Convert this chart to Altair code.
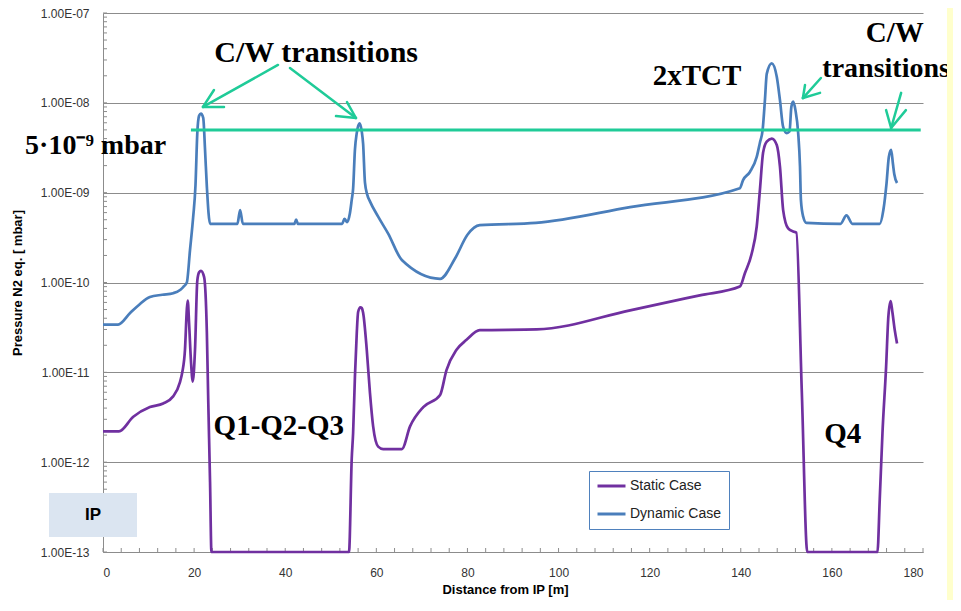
import altair as alt
import pandas as pd

# ---------------- data ----------------
series_names = ["Static Case", "Dynamic Case"]
series_colors = ["#7030A0", "#4A7EBB"]

dyn_x = [0, 3.3, 6, 8, 10.3, 13, 15.4, 17.0, 17.6, 18.4, 19.1, 19.8, 20.3, 20.7, 21.1, 21.5, 22.0, 22.4,
         22.8, 23.5, 24.5, 29.5, 30.1, 30.7, 42.0, 42.4, 42.8, 52.5, 53.0, 53.6, 54.2, 54.6, 54.9, 55.3,
         55.7, 56.3, 56.8, 57.1, 57.5, 58.0, 58.6, 60.4, 62.6, 65.6, 74.0, 77.3, 80.0, 82.7, 95.0, 115.7,
         139.8, 140.5, 142.0, 143.5, 144.2, 144.8, 145.3, 145.7, 146.8, 147.9, 148.6, 149.3, 150.1, 150.7,
         151.1, 151.5, 152.0, 152.6, 153.0, 153.2, 153.7, 154.4, 161.9, 163.2, 164.5, 170.5, 171.3, 172.0,
         172.5, 173.0, 173.4, 173.7, 174.3]
dyn_y = [3.4e-11, 3.4e-11, 4.6e-11, 5.7e-11, 6.9e-11, 7.3e-11, 7.6e-11, 8.3e-11, 8.9e-11, 1.0e-10, 2.3e-10,
         5.4e-10, 1.2e-9, 4.6e-9, 7.2e-9, 7.6e-9, 6.8e-9, 3.0e-9, 1.16e-9, 4.5e-10, 4.5e-10, 4.5e-10, 6.4e-10,
         4.5e-10, 4.5e-10, 5.0e-10, 4.5e-10, 4.5e-10, 5.1e-10, 4.7e-10, 5.9e-10, 8.3e-10, 1.1e-9, 3.0e-9,
         4.6e-9, 5.9e-9, 4.8e-9, 3.5e-9, 1.3e-9, 9.5e-10, 8.0e-10, 5.4e-10, 3.5e-10, 1.78e-10, 1.1e-10,
         1.86e-10, 3.4e-10, 4.35e-10, 4.6e-10, 6.9e-10, 1.12e-9, 1.38e-9, 1.7e-9, 2.5e-9, 3.6e-9, 5.0e-9,
         1.07e-8, 2.1e-8, 2.75e-8, 1.95e-8, 1.07e-8, 5.4e-9, 4.6e-9, 4.8e-9, 9.0e-9, 1.03e-8, 8.3e-9, 4.6e-9,
         1.95e-9, 8.3e-10, 5.4e-10, 4.6e-10, 4.5e-10, 5.6e-10, 4.5e-10, 4.5e-10, 6.4e-10, 1.28e-9, 2.5e-9,
         3.0e-9, 2.1e-9, 1.6e-9, 1.28e-9]

sta_x = [0, 3.5, 6.65, 10.3, 13.2, 15.4, 16.9, 17.4, 18.0, 18.4, 18.6, 18.9, 19.3, 19.7, 20.2, 20.7, 21.1,
         21.5, 22.2, 22.8, 23.1, 23.5, 23.8, 54.0, 54.6, 54.9, 55.3, 55.7, 56.0, 56.5, 56.8, 57.1, 57.9,
         58.6, 59.3, 60.4, 61.5, 65.6, 67.4, 70.3, 74.0, 75.4, 77.6, 79.8, 82.7, 95.2, 115.7, 131.0, 139.8,
         140.9, 142.4, 143.5, 144.2, 144.9, 145.7, 146.8, 147.9, 148.6, 149.3, 150.4, 151.5, 152.2, 153.4,
         154.6, 170.0, 170.5, 171.1, 171.9, 172.4, 172.9, 173.3, 173.8, 174.3]
sta_y = [2.2e-12, 2.2e-12, 3.2e-12, 4.1e-12, 4.5e-12, 5.4e-12, 7.8e-12, 1.0e-11, 1.8e-11, 5.0e-11, 6.3e-11,
         3.5e-11, 1.36e-11, 7.9e-12, 1.8e-11, 1.05e-10, 1.3e-10, 1.35e-10, 1.15e-10, 2.75e-11, 4.9e-12,
         6e-13, 1e-13, 1e-13, 1.1e-12, 2.1e-12, 8.9e-12, 2.7e-11, 4.7e-11, 5.3e-11, 5.2e-11, 4.6e-11,
         1.78e-11, 5.9e-12, 2.5e-12, 1.49e-12, 1.4e-12, 1.4e-12, 2.5e-12, 4.1e-12, 5.6e-12, 1.06e-11,
         1.78e-11, 2.3e-11, 2.95e-11, 3.0e-11, 4.9e-11, 7.2e-11, 9.0e-11, 1.27e-10, 2.1e-10, 4.2e-10,
         1.07e-9, 2.8e-9, 3.7e-9, 4.0e-9, 3.4e-9, 1.95e-9, 6.4e-10, 4.0e-10, 3.7e-10, 3.6e-10, 6e-12,
         1e-13, 1e-13, 3.8e-13, 2.1e-12, 1.15e-11, 4.2e-11, 6.2e-11, 4.6e-11, 2.95e-11, 2.1e-11]

x_labels = [0, 20, 40, 60, 80, 100, 120, 140, 160, 180]
y_decades = [1e-13, 1e-12, 1e-11, 1e-10, 1e-9, 1e-8, 1e-7]

limit_value = 5e-9
limit_x = [19.3, 179.5]

# annotation texts (x in m, y in mbar, baseline)
ann_text = ["C/W transitions", "2xTCT", "C/W", "transitions", "Q1-Q2-Q3", "Q4"]
ann_x = [46.8, 130.4, 173.8, 171.9, 38.6, 162.4]
ann_y = [2.85e-8, 1.58e-8, 4.76e-8, 1.94e-8, 2.0e-12, 1.63e-12]
ann_size = [30, 29, 29, 28, 29, 29]

lim_text = ["5·10⁻⁹ mbar"]
lim_x = [-17.1]
lim_y = [2.69e-9]

# arrows: shaft + two barbs each (x, y, x2, y2)
arr_x = [38.41, 21.95, 21.95, 41.04, 55.53, 55.53, 157.59, 153.64, 153.64, 175.2, 173.0, 173.0]
arr_y = [2.64e-8, 9.0e-9, 9.0e-9, 2.44e-8, 6.78e-9, 6.78e-9, 1.89e-8, 1.13e-8, 1.13e-8, 1.29e-8, 5.25e-9, 5.25e-9]
arr_x2 = [21.95, 26.56, 24.36, 55.53, 51.14, 53.56, 153.64, 157.4, 154.1, 173.0, 176.25, 171.9]
arr_y2 = [9.0e-9, 9.0e-9, 1.39e-8, 6.78e-9, 7.13e-9, 1.02e-8, 1.13e-8, 1.29e-8, 1.58e-8, 5.25e-9, 8.3e-9, 8.3e-9]

ip_box_x = [-11.85, 7.46]
ip_box_y = [4.54e-13, 1.47e-13]
ip_label = ["IP"]
ip_label_x = [-2.2]
ip_label_y = [2.58e-13]

# minor tick positions (Excel-style)
x_minor = list(range(0, 181, 4))
y_minor = [m * 10.0 ** e for e in range(-13, -7) for m in range(1, 10)] + [1e-7]

# ---------------- tables ----------------
lines_df = pd.concat([
    pd.DataFrame({"x": sta_x, "y": sta_y, "series": series_names[0]}),
    pd.DataFrame({"x": dyn_x, "y": dyn_y, "series": series_names[1]}),
], ignore_index=True)
lim_df = pd.DataFrame({"x": [limit_x[0]], "x2": [limit_x[1]], "y": [limit_value]})
ann_df = pd.DataFrame({"x": ann_x, "y": ann_y, "t": ann_text, "fs": ann_size})
limtxt_df = pd.DataFrame({"x": lim_x, "y": lim_y, "t": lim_text})
arr_df = pd.DataFrame({"x": arr_x, "y": arr_y, "x2": arr_x2, "y2": arr_y2})
ipbox_df = pd.DataFrame({"x": [ip_box_x[0]], "x2": [ip_box_x[1]], "y": [ip_box_y[0]], "y2": [ip_box_y[1]]})
iptxt_df = pd.DataFrame({"x": ip_label_x, "y": ip_label_y, "t": ip_label})
xminor_df = pd.DataFrame({"x": x_minor})
yminor_df = pd.DataFrame({"y": y_minor})
one_df = pd.DataFrame({"a": [0]})

# ---------------- scales / axes ----------------
GRAY = "#8C8C8C"
GREEN = "#1FCB98"
xscale = alt.Scale(domain=[0, 180], nice=False, zero=False)
yscale = alt.Scale(type="log", domain=[1e-13, 1e-7], nice=False)

xaxis = alt.Axis(values=x_labels, title="Distance from IP [m]", grid=False, ticks=False,
                 domainColor=GRAY, labelFont="Liberation Sans", labelFontSize=12, labelColor="#333333",
                 labelPadding=15, titleFont="Liberation Sans", titleFontSize=13, titleFontWeight="bold",
                 titleColor="#000000", titlePadding=5, titleX=402)
yaxis = alt.Axis(values=y_decades, title="Pressure N2 eq. [ mbar]", grid=True, gridColor=GRAY,
                 gridWidth=1, ticks=False, domainColor=GRAY, labelFont="Liberation Sans", labelFontSize=12,
                 labelColor="#333333", labelPadding=14,
                 labelExpr="'1.00E-' + (round(-log(datum.value)/LN10) < 10 ? '0' : '') + round(-log(datum.value)/LN10)",
                 titleFont="Liberation Sans", titleFontSize=13, titleFontWeight="bold", titleColor="#000000",
                 titlePadding=16)

X = alt.X("x:Q", scale=xscale, axis=xaxis)
Y = alt.Y("y:Q", scale=yscale, axis=yaxis)

lines = alt.Chart(lines_df).mark_line(strokeWidth=2.7, interpolate="monotone").encode(
    x=X, y=Y,
    color=alt.Color("series:N", scale=alt.Scale(domain=series_names, range=series_colors),
                    legend=alt.Legend(title=None, orient="none", legendX=486, legendY=458,
                                      direction="vertical", symbolType="stroke", symbolSize=784,
                                      symbolStrokeWidth=3, clipHeight=16, rowPadding=12, padding=7,
                                      strokeColor="#4F81BD", fillColor="white", labelFont="Liberation Sans",
                                      labelFontSize=14, labelColor="#222222", labelOffset=3)),
    detail="series:N",
)

limit_line = alt.Chart(lim_df).mark_rule(color=GREEN, strokeWidth=3).encode(x=X, x2="x2:Q", y=Y)

arrows = alt.Chart(arr_df).mark_rule(color=GREEN, strokeWidth=2.5, strokeCap="round").encode(
    x=X, y=Y, x2="x2:Q", y2="y2:Q")

ann = alt.Chart(ann_df).mark_text(font="Liberation Serif", fontWeight="bold", color="#000000",
                                  align="center", baseline="alphabetic").encode(
    x=X, y=Y, text="t:N", size=alt.Size("fs:Q", scale=None, legend=None))

limtxt = alt.Chart(limtxt_df).mark_text(font="Liberation Serif", fontWeight="bold", color="#000000",
                                        align="left", baseline="alphabetic", fontSize=28).encode(
    x=X, y=Y, text="t:N")

xminor = alt.Chart(xminor_df).mark_rule(color=GRAY, strokeWidth=1).encode(
    x=X, y=alt.value(539), y2=alt.value(535))
yminor = alt.Chart(yminor_df).mark_rule(color=GRAY, strokeWidth=1).encode(
    y=Y, x=alt.value(0), x2=alt.value(4))

ipbox = alt.Chart(ipbox_df).mark_rect(color="#DBE5F1").encode(x=X, x2="x2:Q", y=Y, y2="y2:Q")
iptxt = alt.Chart(iptxt_df).mark_text(font="Liberation Sans", fontWeight="bold", fontSize=17,
                                      color="#000000", baseline="middle").encode(x=X, y=Y, text="t:N")

yellow_r = alt.Chart(one_df).mark_rect(color="#FFFFCC").encode(
    x=alt.value(844), x2=alt.value(850), y=alt.value(-6), y2=alt.value(600))

chart = alt.layer(
    xminor, yminor, lines, limit_line, arrows, ann, limtxt, ipbox, iptxt, yellow_r
).properties(
    width=820, height=539,
    autosize=alt.AutoSizeParams(type="none"),
    padding={"left": 95, "top": 5, "right": 30, "bottom": 48},
    background="white",
).configure_view(stroke=None)

chart.save("out.html", embed_options={"renderer": "svg", "actions": False})
